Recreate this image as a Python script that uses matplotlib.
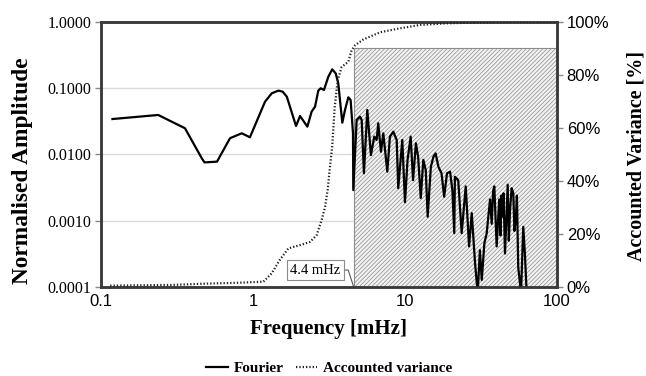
import matplotlib
matplotlib.use('Agg')
import matplotlib.pyplot as plt
from matplotlib.ticker import FixedLocator, FuncFormatter, NullLocator

# Fourier spectrum (frequency in mHz, normalised amplitude)
fourier_freq = [0.119, 0.238, 0.357, 0.46, 0.48, 0.58, 0.706, 0.843, 0.955, 1.2, 1.33, 1.47,
                1.57, 1.67, 1.92, 2.04, 2.28, 2.43, 2.56, 2.69, 2.79, 2.93, 3.13, 3.32, 3.5,
                3.64, 3.87, 4.03, 4.24, 4.39, 4.55, 4.57,
                4.81, 5.06, 5.19, 5.37, 5.65, 5.97, 6.28, 6.51, 6.67, 6.95, 7.2, 7.65, 7.96,
                8.38, 8.82, 9.03, 9.6, 10.0, 10.4, 10.9, 11.3, 11.8, 12.2, 12.7, 13.2, 13.7,
                14.1, 14.8, 15.4, 15.9, 16.6, 17.4, 18.1, 18.9, 19.8, 20.5, 21.1, 21.3, 22.4,
                23.6, 25.1, 26.4, 27.5, 28.9, 30.1, 31.1, 32.0, 33.3, 34.5, 35.4, 36.3, 37.2,
                38.0, 38.7, 40.1, 41.7, 42.5, 43.0, 43.6, 44.5, 45.5, 47.4, 48.2, 49.1, 50.3,
                51.6, 52.5, 53.7, 54.5, 55.6, 58.0, 60.0, 61.5, 63.2]
fourier_amp = [0.0343, 0.0395, 0.0249, 0.0088, 0.0076, 0.0078, 0.0176, 0.0209, 0.0182, 0.0626,
               0.084, 0.092, 0.0887, 0.0745, 0.0269, 0.0381, 0.0263, 0.0443, 0.0527, 0.092, 0.1,
               0.094, 0.149, 0.193, 0.168, 0.119, 0.0302, 0.047, 0.073, 0.0665, 0.021, 0.0029,
               0.0332, 0.0372, 0.0332, 0.0052, 0.047, 0.0098, 0.0186, 0.0166, 0.0296, 0.011,
               0.0209, 0.0055, 0.0186, 0.0221, 0.0166, 0.0031, 0.0166, 0.0019, 0.0083, 0.0186,
               0.0041, 0.0148, 0.0093, 0.0022, 0.0083, 0.0058, 0.00115, 0.0065, 0.0093, 0.0104,
               0.0065, 0.0052, 0.0023, 0.0052, 0.0055, 0.0029, 0.00065, 0.0046, 0.0041, 0.00065,
               0.0033, 0.00041, 0.0013, 0.00023, 0.00008, 0.00036, 0.000128, 0.00046, 0.00065,
               0.0012, 0.0021, 0.0009, 0.0028, 0.0033, 0.00041, 0.0021, 0.0006, 0.0024, 0.00115,
               0.0026, 0.00032, 0.0035, 0.0005, 0.00145, 0.0031, 0.0026, 0.0007, 0.00115,
               0.0024, 0.0002, 0.00008, 0.00081, 0.00032, 0.00008]

# cumulative accounted variance (%)
var_freq = [0.115, 0.3, 0.45, 0.8, 1.17, 1.33, 1.5, 1.71, 2.04, 2.37, 2.62, 2.83, 2.98, 3.10,
            3.21, 3.32, 3.45, 3.61, 3.83, 4.24, 4.46, 4.69, 5.32, 6.85, 8.83, 12.6, 18.8, 31.1,
            45, 63, 100]
var_pct = [0.5, 0.8, 1.2, 1.6, 2.0, 5.2, 10.2, 14.6, 15.8, 17.0, 19.5, 25.3, 30.2, 36.6, 45.4,
           53, 68, 78, 83, 85, 89.4, 91.2, 93.4, 96.1, 97.4, 98.9, 99.5, 99.8, 100, 100, 100]

cutoff = 4.6
cutoff_label = '4.4 mHz'
shade_top = 90  # %

serif = 'Liberation Serif'
sans = 'Liberation Sans'
plt.rcParams['hatch.linewidth'] = 0.5
plt.rcParams['hatch.color'] = '#a0a0a0'

fig = plt.figure(figsize=(6.46, 3.76), dpi=100)
ax = fig.add_axes([0.1563, 0.2367, 0.7059, 0.7048])
ax2 = ax.twinx()

ax.set_xscale('log')
ax.set_yscale('log')
ax.set_xlim(0.1, 100)
ax.set_ylim(0.0001, 1.0)
ax2.set_ylim(0, 100)

# shaded (hatched) region above the cutoff, behind the spectrum
ax.axvspan(cutoff, 100, ymin=0, ymax=shade_top / 100, facecolor='#f2f2f2',
           edgecolor='#8c8c8c', hatch='////////', linewidth=0.8, zorder=1)

for yv in [0.001, 0.01, 0.1]:
    ax.axhline(yv, color='#d9d9d9', lw=1, zorder=0.5)

ax.plot(fourier_freq, fourier_amp, color='black', lw=1.6, zorder=3, label='Fourier')
ax2.plot(var_freq, var_pct, color='#222222', lw=1.6, ls=(0, (0.6, 0.9)), zorder=3,
         label='Accounted variance')

ax.annotate(cutoff_label, xy=(cutoff, 0.0001), xytext=(2.58, 0.00018),
            ha='center', va='center', fontsize=10.5, family=serif,
            bbox=dict(boxstyle='square,pad=0.25', fc='white', ec='#8c8c8c', lw=0.8),
            arrowprops=dict(arrowstyle='-', color='#555555', lw=0.8,
                            connectionstyle='angle,angleA=0,angleB=108,rad=0',
                            shrinkA=0, shrinkB=0), zorder=4)

ax.yaxis.set_major_locator(FixedLocator([0.0001, 0.001, 0.01, 0.1, 1.0]))
ax.yaxis.set_minor_locator(NullLocator())
ax.yaxis.set_major_formatter(FuncFormatter(lambda v, p: f'{v:.4f}'))
ax.xaxis.set_major_locator(FixedLocator([0.1, 1, 10, 100]))
ax.xaxis.set_minor_locator(NullLocator())
ax.xaxis.set_major_formatter(FuncFormatter(lambda v, p: f'{v:g}'))
ax2.yaxis.set_major_locator(FixedLocator([0, 20, 40, 60, 80, 100]))
ax2.yaxis.set_major_formatter(FuncFormatter(lambda v, p: f'{v:.0f}%'))

ax.tick_params(axis='y', length=4, width=1, color='#888888', pad=3, labelsize=11.5)
ax.tick_params(axis='x', length=0, pad=5, labelsize=12)
ax2.tick_params(axis='y', length=4, width=1, color='#888888', pad=3, labelsize=12)
for lab in ax.get_yticklabels():
    lab.set_family(serif)
for lab in ax.get_xticklabels() + ax2.get_yticklabels():
    lab.set_family(sans)

for a in (ax, ax2):
    for s in a.spines.values():
        s.set_color('#3a3a3a')
        s.set_linewidth(1.8)

ax.set_xlabel('Frequency [mHz]', family=serif, fontweight='bold', fontsize=15, labelpad=7)
ax.set_ylabel('Normalised Amplitude', family=serif, fontweight='bold', fontsize=16.8)
ax.yaxis.set_label_coords(-0.149, 0.44)
ax2.set_ylabel('Accounted Variance [%]', family=serif, fontweight='bold', fontsize=14.4)
ax2.yaxis.set_label_coords(1.152, 0.495)

h1, l1 = ax.get_legend_handles_labels()
h2, l2 = ax2.get_legend_handles_labels()
fig.legend(h1 + h2, l1 + l2, loc='lower center', bbox_to_anchor=(0.51, -0.035), ncol=2,
           frameon=False, handlelength=1.4, handletextpad=0.4, columnspacing=0.8,
           prop=dict(family=serif, weight='bold', size=11))

fig.savefig('out.png', dpi=100)
